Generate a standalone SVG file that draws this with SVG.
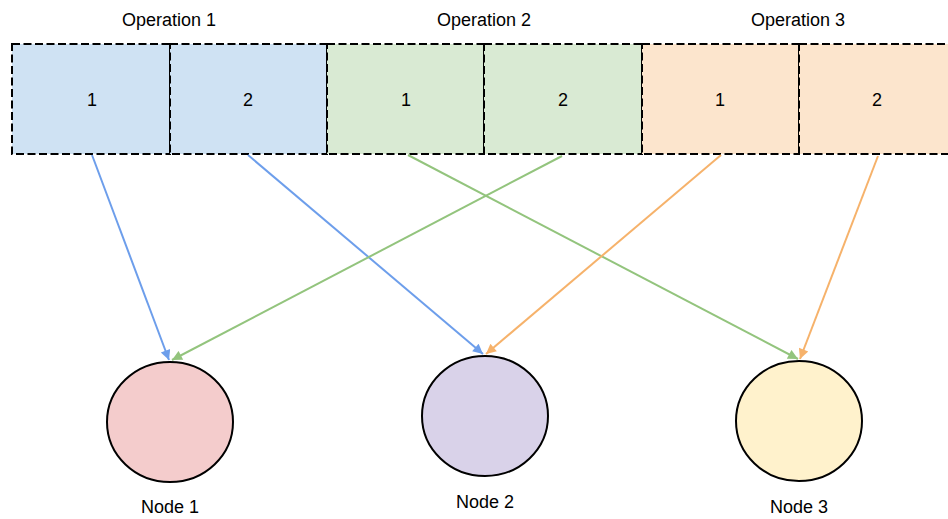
<svg xmlns="http://www.w3.org/2000/svg" width="948" height="519" viewBox="0 0 948 519">
<defs>
<style>
.t{font-family:"Liberation Sans",Arial,sans-serif;font-size:18px;fill:#000;text-anchor:middle}
.cell{stroke:#000;stroke-width:2;stroke-dasharray:8,3.5}
.b{fill:#cfe2f3}.g{fill:#d9ead3}.o{fill:#fce5cd}
.node{stroke:#000;stroke-width:2}
.c{fill:none;stroke-width:2}
</style>
<marker id="mb" viewBox="0 0 10 10" refX="10" refY="5" markerWidth="12" markerHeight="10" markerUnits="userSpaceOnUse" orient="auto"><path d="M0,0L10,5L0,10z" fill="#6d9eeb"/></marker>
<marker id="mg" viewBox="0 0 10 10" refX="10" refY="5" markerWidth="12" markerHeight="10" markerUnits="userSpaceOnUse" orient="auto"><path d="M0,0L10,5L0,10z" fill="#93c47d"/></marker>
<marker id="mo" viewBox="0 0 10 10" refX="10" refY="5" markerWidth="12" markerHeight="10" markerUnits="userSpaceOnUse" orient="auto"><path d="M0,0L10,5L0,10z" fill="#f6b26b"/></marker>
</defs>
<rect width="948" height="519" fill="#fff"/>
<g id="op1">
<text class="t" x="169" y="26">Operation 1</text>
<rect class="cell b" x="12" y="44" width="158" height="110"/>
<rect class="cell b" x="170" y="44" width="157" height="110"/>
<text class="t" x="92" y="106">1</text>
<text class="t" x="248" y="106">2</text>
</g>
<g id="op2">
<text class="t" x="484" y="26">Operation 2</text>
<rect class="cell g" x="327" y="44" width="157" height="110"/>
<rect class="cell g" x="484" y="44" width="158" height="110"/>
<text class="t" x="406" y="106">1</text>
<text class="t" x="563" y="106">2</text>
</g>
<g id="op3">
<text class="t" x="798" y="26">Operation 3</text>
<rect class="cell o" x="642" y="44" width="157" height="110"/>
<rect class="cell o" x="799" y="44" width="158" height="110"/>
<text class="t" x="720" y="106">1</text>
<text class="t" x="877" y="106">2</text>
</g>
<g id="connectors">
<line class="c" stroke="#6d9eeb" x1="92" y1="155" x2="169" y2="360" marker-end="url(#mb)"/>
<line class="c" stroke="#6d9eeb" x1="248" y1="155" x2="483" y2="354" marker-end="url(#mb)"/>
<line class="c" stroke="#93c47d" x1="408" y1="155" x2="798" y2="359" marker-end="url(#mg)"/>
<line class="c" stroke="#93c47d" x1="562" y1="156" x2="172" y2="360" marker-end="url(#mg)"/>
<line class="c" stroke="#f6b26b" x1="721" y1="155" x2="486" y2="354" marker-end="url(#mo)"/>
<line class="c" stroke="#f6b26b" x1="878" y1="156" x2="800" y2="359" marker-end="url(#mo)"/>
</g>
<g id="node1">
<ellipse class="node" cx="170" cy="422" rx="63" ry="60" fill="#f4cccc"/>
<text class="t" x="170" y="513">Node 1</text>
</g>
<g id="node2">
<ellipse class="node" cx="485" cy="416" rx="63" ry="60" fill="#d9d2e9"/>
<text class="t" x="485" y="508">Node 2</text>
</g>
<g id="node3">
<ellipse class="node" cx="799" cy="421" rx="63" ry="60" fill="#fff2cc"/>
<text class="t" x="799" y="513">Node 3</text>
</g>
</svg>
